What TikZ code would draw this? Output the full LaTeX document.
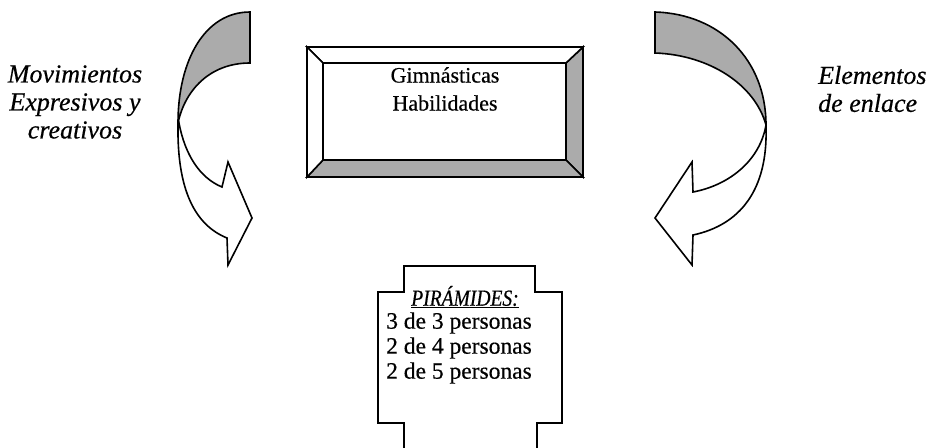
\documentclass[tikz,border=0pt]{standalone}
\usepackage{fontspec}
\setmainfont{Liberation Serif}[FakeBold=0.5]
\newfontfamily\titlefont{Liberation Serif}[FakeBold=0.5,FakeStretch=0.85]
\begin{document}
\begin{tikzpicture}[x=1pt,y=-1pt,line join=miter,
  edge/.style={draw=black,line width=1.6pt},
  shade/.style={edge,fill=black!33},
  blank/.style={edge,fill=white},
  lbl/.style={font=\fontsize{23.5}{25}\selectfont,align=center,inner sep=0pt},
  ilbl/.style={font=\fontsize{26}{28}\selectfont\itshape,inner sep=0pt}]
\useasboundingbox (0,0) rectangle (931,447);
% ---- top bevelled box
\coordinate (o1) at (307,47); \coordinate (o2) at (583,47);
\coordinate (o3) at (583,177); \coordinate (o4) at (307,177);
\coordinate (i1) at (323,63); \coordinate (i2) at (566,63);
\coordinate (i3) at (566,160); \coordinate (i4) at (323,160);
\path[shade] (o2) -- (o3) -- (i3) -- (i2) -- cycle;
\path[shade] (o4) -- (o3) -- (i3) -- (i4) -- cycle;
\path[blank] (o1) -- (o2) -- (i2) -- (i1) -- cycle;
\path[blank] (o1) -- (i1) -- (i4) -- (o4) -- cycle;
\path[blank] (i1) rectangle (i3);
\node[lbl,font=\fontsize{22}{28}\selectfont] (top) at (445,89) {Gimnásticas\\Habilidades};
% ---- left curved arrow
\path[shade] (250,12) .. controls (205,12) and (178,60) .. (178,123)
  .. controls (185,90) and (210,63) .. (250,63) -- cycle;
\path[blank] (179,123) .. controls (185,155) and (200,178) .. (222,187)
  -- (228,162) -- (252,218) -- (228,265) -- (227,238)
  .. controls (195,225) and (177,190) .. (178,125) -- cycle;
% ---- right curved arrow
\path[shade] (655,12) .. controls (720,14) and (766,60) .. (766,125)
  .. controls (755,85) and (710,55) .. (655,53) -- cycle;
\path[blank] (766,125) .. controls (760,160) and (730,185) .. (693,192)
  -- (692,162) -- (655,218) -- (692,265) -- (693,235)
  .. controls (740,225) and (768,190) .. (766,127) -- cycle;
% ---- side labels
\node[ilbl,align=center] (left) at (75,102) {Movimientos\\Expresivos y\\creativos};
\node[ilbl,align=left,anchor=west] (right) at (818,89) {Elementos\\de enlace};
% ---- bottom notched box
\draw[edge] (404,450) -- (404,423) -- (378,423) -- (378,292) -- (404,292)
  -- (404,266) -- (535,266) -- (535,292) -- (562,292) -- (562,423)
  -- (537,423) -- (537,450);
\node[inner sep=0pt,font=\titlefont\fontsize{23}{25}\selectfont\itshape] (title) at (465,297) {\underline{PIRÁMIDES:}};
\node[lbl] (bottom) at (459,348) {3 de 3 personas\\2 de 4 personas\\2 de 5 personas};
\end{tikzpicture}
\end{document}
